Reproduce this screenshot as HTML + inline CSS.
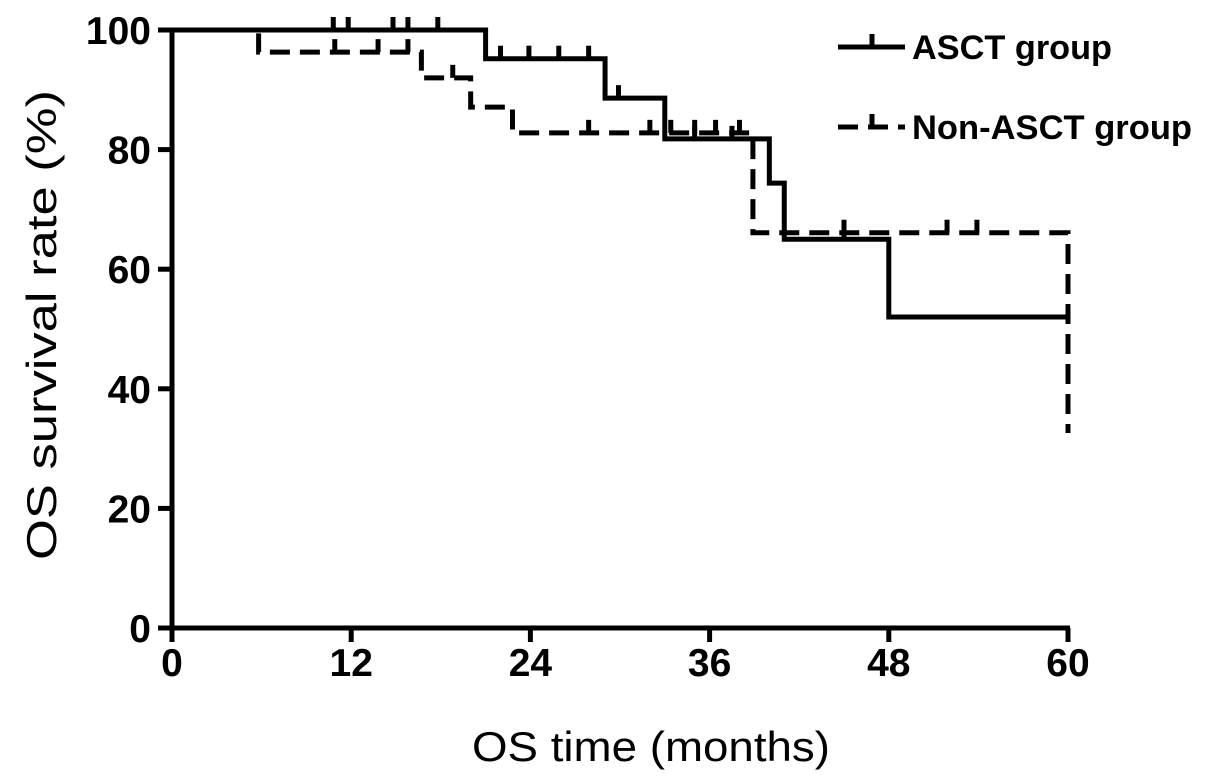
<!DOCTYPE html>
<html><head><meta charset="utf-8"><style>
body{margin:0;background:#fff}
svg{display:block;font-family:"Liberation Sans",Arial,sans-serif}
</style></head><body>
<svg id="chart" width="1205" height="783" viewBox="0 0 1205 783" xmlns="http://www.w3.org/2000/svg">
<g id="axes"></g>
<g id="series"></g>
<text x="0" y="0" transform="translate(56,325) rotate(-90)" text-anchor="middle" font-size="42" textLength="470" lengthAdjust="spacingAndGlyphs">OS survival rate (%)</text>
<text x="651" y="761" text-anchor="middle" font-size="42" textLength="358" lengthAdjust="spacingAndGlyphs">OS time (months)</text>
<g>
<g>
<line x1="838" y1="47" x2="905" y2="47" stroke="#000" stroke-width="5"/>
<line x1="872" y1="47" x2="872" y2="34" stroke="#000" stroke-width="5"/>
<text x="912" y="59" font-size="34" font-weight="bold" textLength="200" lengthAdjust="spacingAndGlyphs">ASCT group</text>
</g>
<g>
<line x1="838" y1="127" x2="905" y2="127" stroke="#000" stroke-width="5" stroke-dasharray="20,10"/>
<line x1="872" y1="127" x2="872" y2="114" stroke="#000" stroke-width="5"/>
<text x="912" y="139" font-size="34" font-weight="bold" textLength="280" lengthAdjust="spacingAndGlyphs">Non-ASCT group</text>
</g>
</g>
</svg>
<script>
const xTicks=[0,12,24,36,48,60];
const yTicks=[0,20,40,60,80,100];
const asctTimes=[0,21,29,33,40,41,48,60];
const asctSurv=[100,95.2,88.6,81.8,74.4,65.0,52.0,52.0];
const asctCensorT=[10.8,11.8,14.8,15.8,17.8,22,23.9,25.9,27.9,29.9,35,37.5,45];
const nonTimes=[0,5.8,16.7,20,22.8,38.9,60];
const nonSurv=[100,96.3,92.0,87.1,82.8,66.1,66.1];
const nonEndDrop=32.6;
const nonCensorT=[10.9,13.8,15.8,18.8,27.9,32,33.4,35,36.4,38,45,51.9,53.9];

const X=t=>172+t*(1068-172)/60;
const Y=v=>628-v*(628-30)/100;
const NS="http://www.w3.org/2000/svg";
function mk(tag,attrs,parent){const e=document.createElementNS(NS,tag);for(const k in attrs)e.setAttribute(k,attrs[k]);parent.appendChild(e);return e;}
const axes=document.getElementById('axes'),series=document.getElementById('series');
let el=mk('line',{x1:172,y1:Y(100)-2,x2:172,y2:630,stroke:'#000','stroke-width':5},axes);


el=mk('line',{x1:170,y1:628,x2:1070,y2:628,stroke:'#000','stroke-width':5},axes);


yTicks.forEach(v=>{
 let t=mk('line',{x1:158,y1:Y(v),x2:172,y2:Y(v),stroke:'#000','stroke-width':5},axes);
 
 
 let l=mk('text',{x:151,y:Y(v)+14,'text-anchor':'end','font-size':39,'font-weight':'bold'},axes);l.textContent=v;
 
 
});
xTicks.forEach(v=>{
 let t=mk('line',{x1:X(v),y1:628,x2:X(v),y2:642,stroke:'#000','stroke-width':5},axes);
 
 
 let l=mk('text',{x:X(v),y:676,'text-anchor':'middle','font-size':39,'font-weight':'bold'},axes);l.textContent=v;
 
 
});
function stepPath(ts,ss){let d=`M${X(ts[0])},${Y(ss[0])}`;for(let i=1;i<ts.length;i++){d+=` H${X(ts[i])} V${Y(ss[i])}`;}return d;}
function survAt(ts,ss,t){let s=ss[0];for(let i=0;i<ts.length;i++){if(ts[i]<=t)s=ss[i];}return s;}
let p=mk('path',{d:stepPath(nonTimes,nonSurv)+` V${Y(nonEndDrop)}`,fill:'none',stroke:'#000','stroke-width':5,'stroke-dasharray':'20,10'},series);


p=mk('path',{d:stepPath(asctTimes,asctSurv),fill:'none',stroke:'#000','stroke-width':5},series);


asctCensorT.forEach(t=>{const y=Y(survAt(asctTimes,asctSurv,t));
 let c=mk('line',{x1:X(t),y1:y,x2:X(t),y2:y-13,stroke:'#000','stroke-width':5},series);
 
 });
nonCensorT.forEach(t=>{const y=Y(survAt(nonTimes,nonSurv,t));
 let c=mk('line',{x1:X(t),y1:y,x2:X(t),y2:y-13,stroke:'#000','stroke-width':5},series);
 
 });
</script>
</body></html>
